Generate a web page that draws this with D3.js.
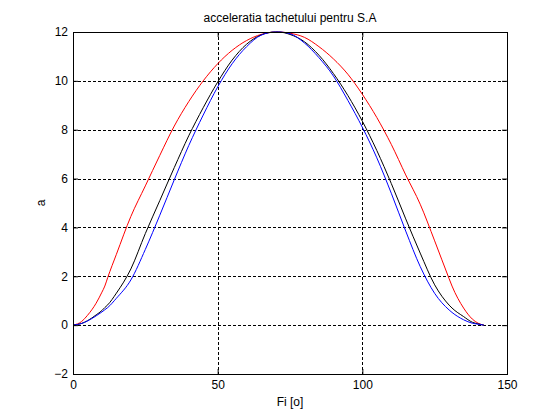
<!DOCTYPE html>
<html>
<head>
<meta charset="utf-8">
<script src="https://cdn.jsdelivr.net/npm/d3@7"></script>
<style>
  body { margin: 0; background: #fff; }
  svg text { font-family: "Liberation Sans", Arial, sans-serif; font-size: 12px; fill: #000; }
</style>
</head>
<body>
<div id="chart"></div>
<script>
// angle values (degrees) shared by the three curves
const fi = [0, 3, 5, 8, 10, 11, 12, 15, 20, 25, 30, 35, 40, 45, 50, 55, 60, 65, 70, 71,
            75, 80, 85, 90, 95, 100, 105, 110, 115, 120, 125, 130, 131, 135, 138, 140, 142];

const aRed   = [0, 0.15, 0.4, 0.9, 1.35, 1.6, 1.95, 2.9, 4.45, 5.7, 6.95, 8.15, 9.15, 10.0, 10.7, 11.25, 11.65, 11.9, 12, 12,
                11.95, 11.78, 11.4, 10.9, 10.27, 9.45, 8.5, 7.4, 6.15, 4.95, 3.45, 1.9, 1.6, 0.7, 0.25, 0.08, 0];
const aBlack = [0, 0.07, 0.18, 0.42, 0.6, 0.72, 0.83, 1.31, 2.3, 3.75, 5.1, 6.45, 7.75, 8.9, 9.95, 10.85, 11.5, 11.88, 12, 12,
                11.9, 11.6, 11.05, 10.3, 9.4, 8.35, 7.15, 5.8, 4.35, 2.95, 1.65, 0.82, 0.7, 0.35, 0.12, 0.05, 0];
const aBlue  = [0, 0.07, 0.17, 0.38, 0.54, 0.63, 0.72, 1.1, 1.85, 3.1, 4.5, 5.95, 7.35, 8.6, 9.75, 10.7, 11.4, 11.87, 12, 12,
                11.93, 11.55, 10.95, 10.2, 9.2, 8.1, 6.85, 5.4, 3.85, 2.4, 1.3, 0.62, 0.52, 0.22, 0.08, 0.04, 0];

const xTicks = [0, 50, 100, 150];
const yTicks = [-2, 0, 2, 4, 6, 8, 10, 12];

const width = 560, height = 420;
const margin = {top: 32, right: 53, bottom: 46, left: 73};
const w = width - margin.left - margin.right;
const h = height - margin.top - margin.bottom;

const svg = d3.select("#chart").append("svg")
    .attr("width", width)
    .attr("height", height);

const g = svg.append("g")
    .attr("transform", `translate(${margin.left},${margin.top})`);

const x = d3.scaleLinear().domain([0, 150]).range([0, w]);
const y = d3.scaleLinear().domain([-2, 12]).range([h, 0]);

// grid
g.append("g").selectAll("line").data(xTicks.slice(1, -1)).join("line")
    .attr("x1", d => Math.round(x(d)) + 0.5).attr("x2", d => Math.round(x(d)) + 0.5)
    .attr("y1", 0).attr("y2", h)
    .attr("stroke", "#000").attr("stroke-dasharray", "3,2");
g.append("g").selectAll("line").data(yTicks.slice(1, -1)).join("line")
    .attr("y1", d => Math.round(y(d)) + 0.5).attr("y2", d => Math.round(y(d)) + 0.5)
    .attr("x1", 0).attr("x2", w)
    .attr("stroke", "#000").attr("stroke-dasharray", "3,2");

// curves
const line = (vals) => d3.line()
    .x((d, i) => x(fi[i]))
    .y(d => y(d))
    .curve(d3.curveMonotoneX)(vals);

[[aRed, "#ff0000"], [aBlack, "#000000"], [aBlue, "#0000ff"]].forEach(([vals, col]) => {
    g.append("path")
        .attr("d", line(vals))
        .attr("fill", "none")
        .attr("stroke", col)
        .attr("stroke-width", 1);
});

// axes (MATLAB style: ticks inward, on all four sides)
const tk = 5;
g.append("g").attr("transform", `translate(0,${h})`)
    .call(d3.axisBottom(x).tickValues(xTicks).tickSizeInner(-tk).tickSizeOuter(0).tickPadding(6))
    .call(a => a.select(".domain").remove());
g.append("g")
    .call(d3.axisLeft(y).tickValues(yTicks).tickSizeInner(-tk).tickSizeOuter(0).tickPadding(5))
    .call(a => a.select(".domain").remove());
g.append("g")
    .call(d3.axisTop(x).tickValues(xTicks).tickSizeInner(-tk).tickSizeOuter(0).tickFormat(""))
    .call(a => a.select(".domain").remove());
g.append("g").attr("transform", `translate(${w},0)`)
    .call(d3.axisRight(y).tickValues(yTicks).tickSizeInner(-tk).tickSizeOuter(0).tickFormat(""))
    .call(a => a.select(".domain").remove());
g.selectAll(".tick text").attr("font-size", 12).attr("font-family", "Liberation Sans, Arial, sans-serif");

g.append("rect")
    .attr("x", 0.5).attr("y", 0.5).attr("width", w).attr("height", h)
    .attr("fill", "none").attr("stroke", "#000");

// labels
g.append("text").attr("x", w / 2).attr("y", -10).attr("text-anchor", "middle")
    .text("acceleratia tachetului pentru S.A");
g.append("text").attr("x", w / 2).attr("y", h + 32).attr("text-anchor", "middle")
    .text("Fi [o]");
g.append("text").attr("transform", `translate(-28,${h / 2}) rotate(-90)`)
    .attr("text-anchor", "middle").text("a");
</script>
</body>
</html>
